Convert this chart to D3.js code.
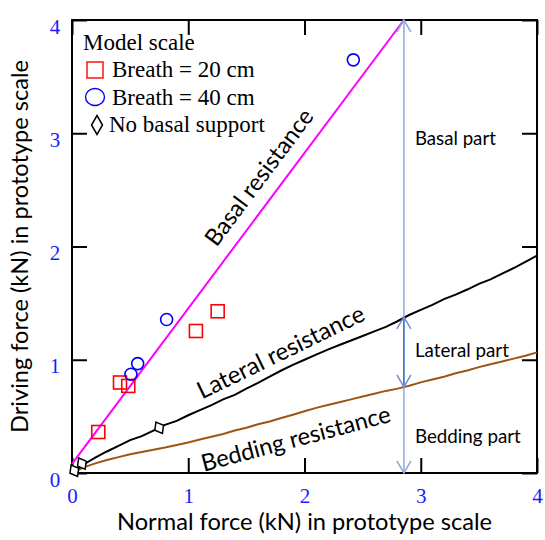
<!DOCTYPE html>
<html>
<head>
<meta charset="utf-8">
<script src="https://cdn.jsdelivr.net/npm/d3@7"></script>
<style>
  body { margin: 0; background: #fff; }
  svg { display: block; }
</style>
</head>
<body>
<div class="chart"></div>
<script>
// ---- data (kN, prototype scale) ----
var xTicks = [0, 1, 2, 3, 4];
var yTicks = [0, 1, 2, 3, 4];

// measured resistance curves, sampled every 0.1 kN of normal force
var curveX = [0.0, 0.1, 0.2, 0.3, 0.4, 0.5, 0.6, 0.7, 0.8, 0.9,
              1.0, 1.1, 1.2, 1.3, 1.4, 1.5, 1.6, 1.7, 1.8, 1.9,
              2.0, 2.1, 2.2, 2.3, 2.4, 2.5, 2.6, 2.7, 2.8, 2.9,
              3.0, 3.1, 3.2, 3.3, 3.4, 3.5, 3.6, 3.7, 3.8, 3.9, 4.0];
var lateralY = [0.00, 0.075, 0.135, 0.19, 0.24, 0.29, 0.325, 0.375, 0.425, 0.46,
                0.51, 0.555, 0.60, 0.65, 0.69, 0.745, 0.795, 0.85, 0.905, 0.955,
                1.00, 1.045, 1.09, 1.13, 1.17, 1.21, 1.25, 1.29, 1.34, 1.395,
                1.44, 1.485, 1.535, 1.575, 1.62, 1.67, 1.71, 1.76, 1.81, 1.865, 1.92];
var beddingY = [0.00, 0.05, 0.085, 0.115, 0.14, 0.165, 0.185, 0.205, 0.225, 0.248,
                0.27, 0.295, 0.32, 0.345, 0.375, 0.40, 0.43, 0.455, 0.485, 0.515,
                0.545, 0.575, 0.60, 0.625, 0.65, 0.675, 0.70, 0.725, 0.745, 0.77,
                0.80, 0.825, 0.85, 0.88, 0.905, 0.935, 0.96, 0.985, 1.01, 1.035, 1.065];
var basalX = [0, 2.855];
var basalY = [0.08, 4];

// model tests
var b20X = [0.226, 0.413, 0.484, 1.066, 1.253];
var b20Y = [0.362, 0.799, 0.769, 1.254, 1.428];
var b40X = [0.507, 0.565, 0.814, 2.42];
var b40Y = [0.872, 0.966, 1.355, 3.648];
var noBasalX = [0.02, 0.085, 0.75];
var noBasalY = [0.02, 0.083, 0.40];

// breakdown arrow at N = 2.855 kN
var partX = 2.855;
var partLevels = [0, 0.76, 1.378, 4];   // bedding top, lateral top, basal top

var margin = { top: 20, right: 8, bottom: 67, left: 72 };
var width = 545 - margin.left - margin.right;
var height = 540 - margin.top - margin.bottom;

var svg = d3.select('.chart')
  .append('svg')
    .attr('width', 545)
    .attr('height', 540)
  .append('g')
    .attr('transform', 'translate(' + margin.left + ', ' + margin.top + ')');

var xScale = d3.scaleLinear().domain([0, 4]).range([0, width]);
var yScale = d3.scaleLinear().domain([0, 4]).range([height, 0]);

var serif = '"Liberation Serif", "Times New Roman", serif';
var sans = 'Lato, "Open Sans", sans-serif';

// scale a text's font so its advance matches a target width
function fitWidth(sel, w) {
  var base = parseFloat(sel.style('font-size'));
  var len = sel.node().getComputedTextLength();
  sel.style('font-size', (base * w / len) + 'px');
  return sel;
}

// axes: inward ticks on all four sides
var tick = 15;
var fmt = d3.format('d');
var bottom = svg.append('g')
  .attr('transform', `translate(0, ${height})`)
  .call(d3.axisBottom(xScale).tickValues(xTicks).tickSize(-tick).tickPadding(15).tickFormat(fmt));
var left = svg.append('g')
  .call(d3.axisLeft(yScale).tickValues(yTicks).tickSize(-tick).tickPadding(12).tickFormat(fmt));
svg.append('g')
  .call(d3.axisTop(xScale).tickValues(xTicks).tickSize(-tick).tickFormat(''));
svg.append('g')
  .attr('transform', `translate(${width}, 0)`)
  .call(d3.axisRight(yScale).tickValues(yTicks).tickSize(-tick).tickFormat(''));

svg.selectAll('.domain').remove();
svg.selectAll('.tick line').attr('stroke', '#000').attr('stroke-width', 2);
svg.selectAll('.tick text')
  .attr('fill', '#1a1aff')
  .style('font-family', serif)
  .style('font-size', '21px');
left.selectAll('.tick text').attr('dy', '0.62em').attr('text-anchor', 'middle').attr('x', -17);

svg.append('rect')
  .attr('width', width)
  .attr('height', height)
  .attr('fill', 'none')
  .attr('stroke', '#000')
  .attr('stroke-width', 2);

// resistance lines
var line = d3.line()
  .x(d => xScale(d[0]))
  .y(d => yScale(d[1]));

svg.append('path')
  .datum(d3.zip(curveX, beddingY))
  .attr('d', line)
  .attr('fill', 'none')
  .attr('stroke', '#9c5514')
  .attr('stroke-width', 2);

svg.append('path')
  .datum(d3.zip(curveX, lateralY))
  .attr('d', line)
  .attr('fill', 'none')
  .attr('stroke', '#000')
  .attr('stroke-width', 2);

svg.append('path')
  .datum(d3.zip(basalX, basalY))
  .attr('d', line)
  .attr('fill', 'none')
  .attr('stroke', '#ff00ff')
  .attr('stroke-width', 2);

// part arrows
function arrowHead(g, x, y, dir, color) {
  // dir = -1 tip pointing up, +1 tip pointing down
  g.append('path')
    .attr('d', `M${x - 7},${y - dir * 12}L${x},${y}L${x + 7},${y - dir * 12}`)
    .attr('fill', 'none')
    .attr('stroke', color)
    .attr('stroke-width', 1.5);
}
var arrows = svg.append('g');
var ax = xScale(partX);
arrows.append('line')
  .attr('x1', ax).attr('x2', ax)
  .attr('y1', yScale(partLevels[0])).attr('y2', yScale(partLevels[3]))
  .attr('stroke', '#8eaadb').attr('stroke-width', 1.5);
arrowHead(arrows, ax, yScale(partLevels[3]), -1, '#8eaadb');
arrowHead(arrows, ax, yScale(partLevels[0]), 1, '#8eaadb');
arrows.append('line')
  .attr('x1', ax).attr('x2', ax)
  .attr('y1', yScale(partLevels[1])).attr('y2', yScale(partLevels[2]))
  .attr('stroke', '#4472c4').attr('stroke-width', 1.5);
arrowHead(arrows, ax, yScale(partLevels[2]), -1, '#6f8fd0');
arrowHead(arrows, ax, yScale(partLevels[1]), 1, '#6f8fd0');

// markers
svg.selectAll('.sq')
  .data(d3.zip(b20X, b20Y))
  .enter()
  .append('rect')
  .attr('class', 'sq')
  .attr('x', d => xScale(d[0]) - 6.5)
  .attr('y', d => yScale(d[1]) - 6.5)
  .attr('width', 13)
  .attr('height', 13)
  .attr('fill', 'none')
  .attr('stroke', '#ff0000')
  .attr('stroke-width', 1.6);

svg.selectAll('.ci')
  .data(d3.zip(b40X, b40Y))
  .enter()
  .append('circle')
  .attr('class', 'ci')
  .attr('cx', d => xScale(d[0]))
  .attr('cy', d => yScale(d[1]))
  .attr('r', 6)
  .attr('fill', 'none')
  .attr('stroke', '#0000ff')
  .attr('stroke-width', 1.6);

function diamond(w, h) {
  return `M0,${-h}L${w},0L0,${h}L${-w},0Z`;
}
svg.selectAll('.di')
  .data(d3.zip(noBasalX, noBasalY))
  .enter()
  .append('path')
  .attr('class', 'di')
  .attr('transform', d => `translate(${xScale(d[0])},${yScale(d[1])}) rotate(-30)`)
  .attr('d', diamond(5, 6.5))
  .attr('fill', '#fff')
  .attr('stroke', '#000')
  .attr('stroke-width', 1.5);

// curve labels
var curveLabels = [
  { text: 'Basal resistance', x: 1.608, y: 2.612, angle: -53.2, w: 164 },
  { text: 'Lateral resistance', x: 1.795, y: 1.069, angle: -25.9, w: 183 },
  { text: 'Bedding resistance', x: 1.924, y: 0.304, angle: -14.9, w: 195 }
];
curveLabels.forEach(function(c) {
  var t = svg.append('text')
    .attr('transform', `translate(${xScale(c.x)},${yScale(c.y)}) rotate(${c.angle})`)
    .attr('text-anchor', 'middle')
    .attr('dy', '0.35em')
    .style('font-family', sans)
    .style('font-size', '24px')
    .attr('fill', '#000')
    .text(c.text);
  fitWidth(t, c.w);
});

var partLabels = [
  { text: 'Basal part', y: 2.955, w: 81 },
  { text: 'Lateral part', y: 1.084, w: 94 },
  { text: 'Bedding part', y: 0.324, w: 106 }
];
partLabels.forEach(function(p) {
  var t = svg.append('text')
    .attr('x', xScale(2.95))
    .attr('y', yScale(p.y))
    .attr('dy', '0.35em')
    .style('font-family', sans)
    .style('font-size', '17px')
    .attr('fill', '#000')
    .text(p.text);
  fitWidth(t, p.w);
});

// legend
var legend = svg.append('g').attr('transform', 'translate(-72, -20)');
legend.append('text')
  .attr('x', 83).attr('y', 50)
  .style('font-family', serif).style('font-size', '23px')
  .text('Model scale');
legend.append('rect')
  .attr('x', 87).attr('y', 62).attr('width', 16).attr('height', 16)
  .attr('fill', 'none').attr('stroke', '#ff0000').attr('stroke-width', 1.4);
legend.append('text')
  .attr('x', 112).attr('y', 77)
  .style('font-family', serif).style('font-size', '23px')
  .text('Breath = 20 cm');
legend.append('ellipse')
  .attr('cx', 95).attr('cy', 97).attr('rx', 9.5).attr('ry', 8.5)
  .attr('fill', 'none').attr('stroke', '#0000ff').attr('stroke-width', 1.4);
legend.append('text')
  .attr('x', 112).attr('y', 105)
  .style('font-family', serif).style('font-size', '23px')
  .text('Breath = 40 cm');
legend.append('path')
  .attr('transform', 'translate(97, 125)')
  .attr('d', diamond(5.5, 9.5))
  .attr('fill', 'none').attr('stroke', '#000').attr('stroke-width', 1.5);
legend.append('text')
  .attr('x', 109).attr('y', 132)
  .style('font-family', serif).style('font-size', '23px')
  .text('No basal support');

// axis titles
var xt = svg.append('text')
  .attr('x', width / 2)
  .attr('y', height + 57)
  .attr('text-anchor', 'middle')
  .style('font-family', sans)
  .style('font-size', '24px')
  .text('Normal force (kN) in prototype scale');
fitWidth(xt, 375);

var yt = svg.append('text')
  .attr('transform', 'rotate(-90)')
  .attr('x', 0 - (height / 2))
  .attr('y', 0 - margin.left + 28)
  .attr('text-anchor', 'middle')
  .style('font-family', sans)
  .style('font-size', '24px')
  .text('Driving force (kN) in prototype scale');
fitWidth(yt, 373);
</script>
</body>
</html>
